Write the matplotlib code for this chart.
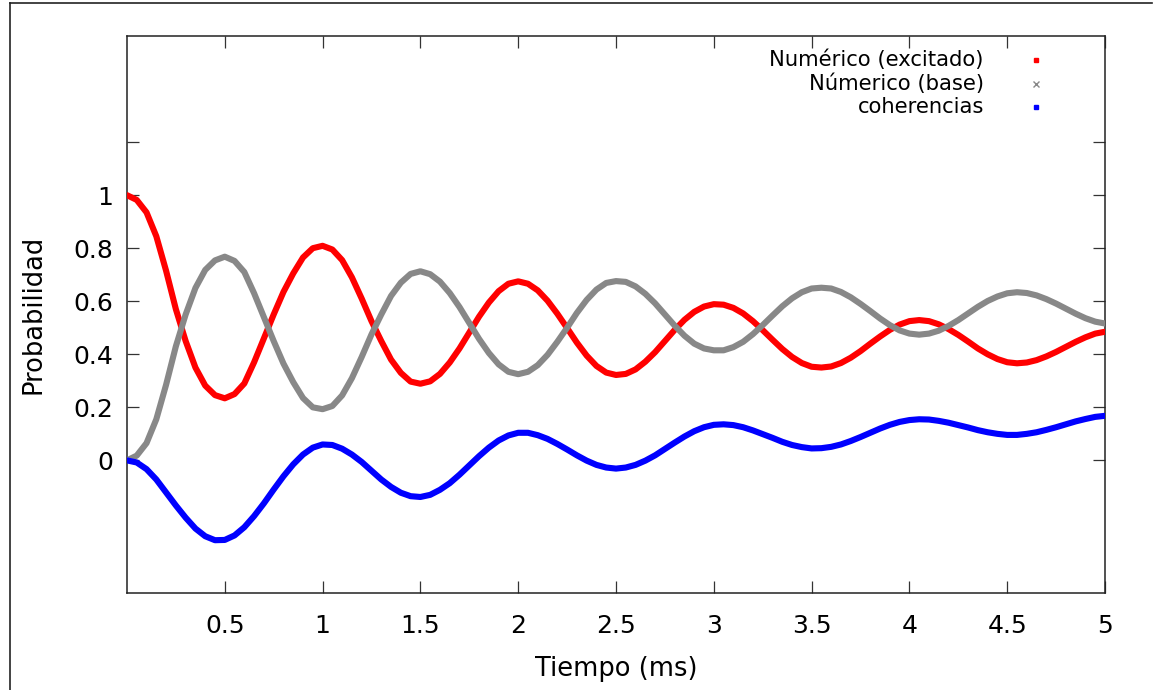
import numpy as np
import matplotlib
matplotlib.use("Agg")
import matplotlib.pyplot as plt
from matplotlib.lines import Line2D

# tiempo (ms), paso de 0.05
tiempo = np.round(np.arange(0, 5.0001, 0.05), 2)

excitado = [
    1.000, 0.982, 0.935, 0.845, 0.715, 0.570, 0.450, 0.350, 0.282, 0.246,
    0.234, 0.250, 0.290, 0.370, 0.460, 0.550, 0.635, 0.705, 0.765, 0.800,
    0.809, 0.795, 0.755, 0.690, 0.610, 0.525, 0.450, 0.380, 0.330, 0.297,
    0.289, 0.298, 0.326, 0.369, 0.422, 0.482, 0.542, 0.595, 0.638, 0.666,
    0.675, 0.666, 0.641, 0.602, 0.553, 0.499, 0.444, 0.395, 0.356, 0.331,
    0.322, 0.326, 0.343, 0.372, 0.408, 0.450, 0.492, 0.530, 0.560, 0.580,
    0.589, 0.587, 0.575, 0.554, 0.525, 0.491, 0.455, 0.420, 0.390, 0.367,
    0.353, 0.350, 0.354, 0.367, 0.387, 0.412, 0.440, 0.467, 0.492, 0.512,
    0.525, 0.529, 0.525, 0.513, 0.495, 0.473, 0.448, 0.422, 0.400, 0.382,
    0.370, 0.366, 0.369, 0.378, 0.392, 0.409, 0.428, 0.447, 0.464, 0.478,
    0.485,
]

base = [
    0.000, 0.018, 0.065, 0.155, 0.285, 0.430, 0.550, 0.650, 0.718, 0.754,
    0.768, 0.752, 0.710, 0.630, 0.540, 0.450, 0.365, 0.295, 0.235, 0.200,
    0.193, 0.205, 0.245, 0.310, 0.390, 0.475, 0.550, 0.620, 0.670, 0.703,
    0.713, 0.702, 0.674, 0.631, 0.578, 0.518, 0.458, 0.405, 0.362, 0.334,
    0.325, 0.334, 0.359, 0.398, 0.447, 0.500, 0.556, 0.605, 0.644, 0.669,
    0.676, 0.673, 0.656, 0.628, 0.592, 0.550, 0.508, 0.470, 0.440, 0.422,
    0.415, 0.415, 0.427, 0.447, 0.476, 0.510, 0.546, 0.581, 0.611, 0.634,
    0.648, 0.651, 0.648, 0.635, 0.615, 0.590, 0.563, 0.535, 0.510, 0.490,
    0.478, 0.474, 0.478, 0.489, 0.507, 0.529, 0.554, 0.579, 0.601, 0.618,
    0.630, 0.634, 0.631, 0.622, 0.608, 0.591, 0.572, 0.553, 0.536, 0.523,
    0.516,
]

coherencias = [
    0.000, -0.008, -0.033, -0.072, -0.121, -0.170, -0.216, -0.257, -0.286, -0.301,
    -0.300, -0.283, -0.252, -0.210, -0.162, -0.110, -0.060, -0.015, 0.022, 0.048,
    0.060, 0.058, 0.044, 0.022, -0.006, -0.039, -0.072, -0.100, -0.122, -0.135,
    -0.138, -0.130, -0.111, -0.086, -0.054, -0.019, 0.016, 0.048, 0.075, 0.094,
    0.104, 0.104, 0.095, 0.081, 0.062, 0.041, 0.019, -0.001, -0.017, -0.027,
    -0.031, -0.027, -0.017, -0.001, 0.019, 0.043, 0.067, 0.090, 0.110, 0.125,
    0.134, 0.136, 0.133, 0.125, 0.113, 0.099, 0.085, 0.070, 0.058, 0.050,
    0.045, 0.046, 0.051, 0.060, 0.073, 0.088, 0.104, 0.120, 0.134, 0.145,
    0.152, 0.155, 0.154, 0.149, 0.142, 0.133, 0.124, 0.114, 0.106, 0.100,
    0.096, 0.096, 0.100, 0.106, 0.115, 0.125, 0.136, 0.147, 0.156, 0.164,
    0.168,
]

etiquetas = ["Numérico (excitado)", "Númerico (base)", "coherencias"]
colores = ["#ff0000", "#888888", "#0000ff"]
marcas = ["s", "x", "s"]

xticks = [0.5, 1, 1.5, 2, 2.5, 3, 3.5, 4, 4.5, 5]
yticks = [0, 0.2, 0.4, 0.6, 0.8, 1, 1.2]
yticklabels = ["0", "0.2", "0.4", "0.6", "0.8", "1", ""]


def main() -> None:
    plt.rcParams['font.family'] = ['DejaVu Sans']
    fig = plt.figure(figsize=(11.68, 6.90), dpi=100)
    ax = fig.add_axes([0.1087, 0.1406, 0.9461 - 0.1087, 0.9478 - 0.1406])

    series = [excitado, base, coherencias]
    for datos, color in zip(series, colores):
        ax.plot(tiempo, datos, color=color, lw=4.4, solid_capstyle='round',
                solid_joinstyle='round', zorder=3)

    ax.set_xlim(0, 5)
    ax.set_ylim(-0.5, 1.6)
    ax.set_xticks(xticks)
    ax.set_xticklabels([f"{v:g}" for v in xticks])
    ax.set_yticks(yticks)
    ax.set_yticklabels(yticklabels)
    ax.tick_params(direction='in', length=8.5, width=0.9, top=True, right=True,
                   labelsize=18, color='#333333')
    ax.tick_params(axis='x', pad=15)
    ax.tick_params(axis='y', pad=10)
    for s in ax.spines.values():
        s.set_linewidth(1.1)
        s.set_color('#222222')

    ax.set_xlabel("Tiempo (ms)", fontsize=18.5, labelpad=13)
    ax.set_ylabel("Probabilidad", fontsize=18.5, labelpad=19)

    # leyenda estilo gnuplot: texto a la derecha, marca a la derecha
    for i, (lab, color, m) in enumerate(zip(etiquetas, colores, marcas)):
        yy = 0.957 - i * 0.0425
        ax.text(0.876, yy, lab, ha='right', va='center', fontsize=15.2,
                transform=ax.transAxes)
        ax.plot([0.929], [yy], marker=m, ms=3.5 if m == 's' else 4,
                mew=1.0, color=color, transform=ax.transAxes, clip_on=False)

    # marco exterior
    fig.add_artist(Line2D([10 / 1168, 10 / 1168], [0, 1 - 3 / 690],
                          transform=fig.transFigure, color='#222222', lw=1.2))
    fig.add_artist(Line2D([10 / 1168, 1152 / 1168], [1 - 3 / 690, 1 - 3 / 690],
                          transform=fig.transFigure, color='#222222', lw=1.2))

    fig.savefig("out.png", dpi=100)


if __name__ == "__main__":
    main()
